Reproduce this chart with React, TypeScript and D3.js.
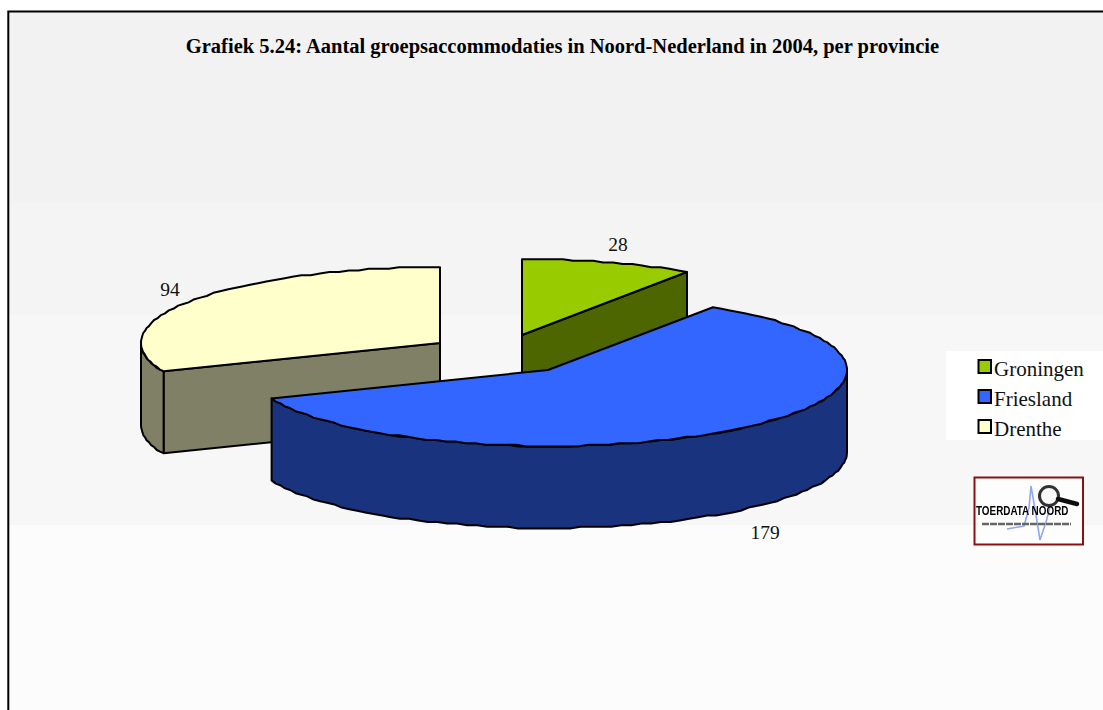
import * as d3 from "d3";

const provinces = ["Groningen", "Friesland", "Drenthe"];
const counts = [28, 179, 94];
const topColors = ["#99cc00", "#3366ff", "#ffffcc"];
const wallColors = ["#4d6600", "#19337f", "#808066"];
const chartTitle = "Grafiek 5.24: Aantal groepsaccommodaties in Noord-Nederland in 2004, per provincie";

// exploded centre of each slice and where its value label sits
const centers = [[522, 335], [548, 370], [440, 343]];
const labelPos = [[618, 250.5], [765, 538.5], [170, 296]];

const bands = [
  { y: 11, h: 192, fill: "#f2f2f2" },
  { y: 203, h: 112, fill: "#f4f4f4" },
  { y: 315, h: 210, fill: "#f7f7f7" },
  { y: 525, h: 185, fill: "#fcfcfc" },
];

const rx = 299;
const ry = 76;
const depth = 82;
const serif = "'Liberation Serif', 'Times New Roman', serif";

const slices = d3.pie<number>().sort(null).value((d) => d)(counts);
const line = d3.line();

function rimPoint(c: number[], a: number, drop = 0): [number, number] {
  // the source was a low-res raster, its rim steps a little at a time
  const y = Math.round((c[1] - ry * Math.cos(a)) / 1.6) * 1.6;
  return [c[0] + rx * Math.sin(a), y + drop];
}

function arcPoints(c: number[], a0: number, a1: number, drop = 0) {
  const n = Math.max(2, Math.ceil(((a1 - a0) * 180) / Math.PI / 2));
  return d3.range(n + 1).map((i) => rimPoint(c, a0 + ((a1 - a0) * i) / n, drop));
}

function Slice({ i }: { i: number }) {
  const { startAngle: a0, endAngle: a1 } = slices[i];
  const c = centers[i];
  const apex: [number, number] = [c[0], c[1]];
  const apexLow: [number, number] = [c[0], c[1] + depth];
  const stroke = { stroke: "#000", strokeWidth: 2, strokeLinejoin: "round" as const };

  const walls: string[] = [];
  // cut faces, only the ones turned towards the viewer
  if (a1 > 0 && a1 < Math.PI) {
    walls.push(line([apex, rimPoint(c, a1), rimPoint(c, a1, depth), apexLow])! + "Z");
  }
  if (a0 > Math.PI && a0 < 2 * Math.PI) {
    walls.push(line([apex, rimPoint(c, a0), rimPoint(c, a0, depth), apexLow])! + "Z");
  }
  // outer rim, front half only
  const from = Math.max(a0, Math.PI / 2);
  const to = Math.min(a1, (3 * Math.PI) / 2);
  if (to > from) {
    const upper = arcPoints(c, from, to);
    const lower = arcPoints(c, from, to, depth).reverse();
    walls.push(line([...upper, ...lower])! + "Z");
  }

  return (
    <g>
      {walls.map((d, k) => (
        <path key={k} d={d} fill={wallColors[i]} {...stroke} />
      ))}
      <path d={line([apex, ...arcPoints(c, a0, a1)])! + "Z"} fill={topColors[i]} {...stroke} />
    </g>
  );
}

function Logo() {
  return (
    <g>
      <rect x={974.5} y={477.5} width={108.5} height={67} fill="#fdfdfd" stroke="#8b1010" strokeWidth={2} />
      <g filter="url(#logoBlur)">
        <path
          d={line([[1007, 529], [1024, 526], [1029, 508], [1031, 486], [1036, 515], [1040, 540], [1046, 522], [1051, 503]])!}
          fill="none"
          stroke="#8fa8f0"
          strokeWidth={1.6}
        />
        <circle cx={1049} cy={496} r={9.5} fill="#f6f6f6" fillOpacity={0.7} stroke="#333" strokeWidth={3} />
        <line x1={1058} y1={499} x2={1077} y2={504} stroke="#111" strokeWidth={4.5} strokeLinecap="round" />
        <line x1={982} x2={1071} y1={524} y2={524} stroke="#666" strokeWidth={2.5} strokeDasharray="7 1" />
        <text transform="translate(976,515) scale(0.86,1.1)" fontFamily="'Liberation Sans', sans-serif" fontWeight={700} fontSize={11.5} fill="#000">
          TOERDATA NOORD
        </text>
      </g>
    </g>
  );
}

export default function App() {
  // back to front
  const order = d3.range(slices.length).sort((a, b) => centers[a][1] - centers[b][1]);

  return (
    <svg width={1103} height={710} style={{ position: "absolute", left: 0, top: 0 }}>
      <defs>
        <filter id="logoBlur" x="-5%" y="-5%" width="110%" height="110%">
          <feGaussianBlur stdDeviation={0.7} />
        </filter>
      </defs>
      <rect width={1103} height={710} fill="#fff" />
      {bands.map((b) => (
        <rect key={b.y} x={8} y={b.y} width={1095} height={b.h} fill={b.fill} />
      ))}
      <path d="M8.3,710V11.6H1103" fill="none" stroke="#000" strokeWidth={2} />

      <text x={562.5} y={53} textAnchor="middle" fontFamily={serif} fontWeight={700} fontSize={20.5} fill="#000">
        {chartTitle}
      </text>

      {order.map((i) => (
        <Slice key={i} i={i} />
      ))}

      {counts.map((v, i) => (
        <text key={i} x={labelPos[i][0]} y={labelPos[i][1]} textAnchor="middle" fontFamily={serif} fontSize={19.5} fill="#111">
          {v}
        </text>
      ))}

      <rect x={946} y={351} width={157} height={89} fill="#fff" />
      {provinces.map((p, i) => (
        <g key={p} transform={`translate(0,${30 * i})`}>
          <rect x={978.5} y={360} width={12.5} height={13} fill={topColors[i]} stroke="#000" strokeWidth={2} />
          <text x={994} y={376} fontFamily={serif} fontSize={21} fill="#111">
            {p}
          </text>
        </g>
      ))}

      <Logo />
    </svg>
  );
}
